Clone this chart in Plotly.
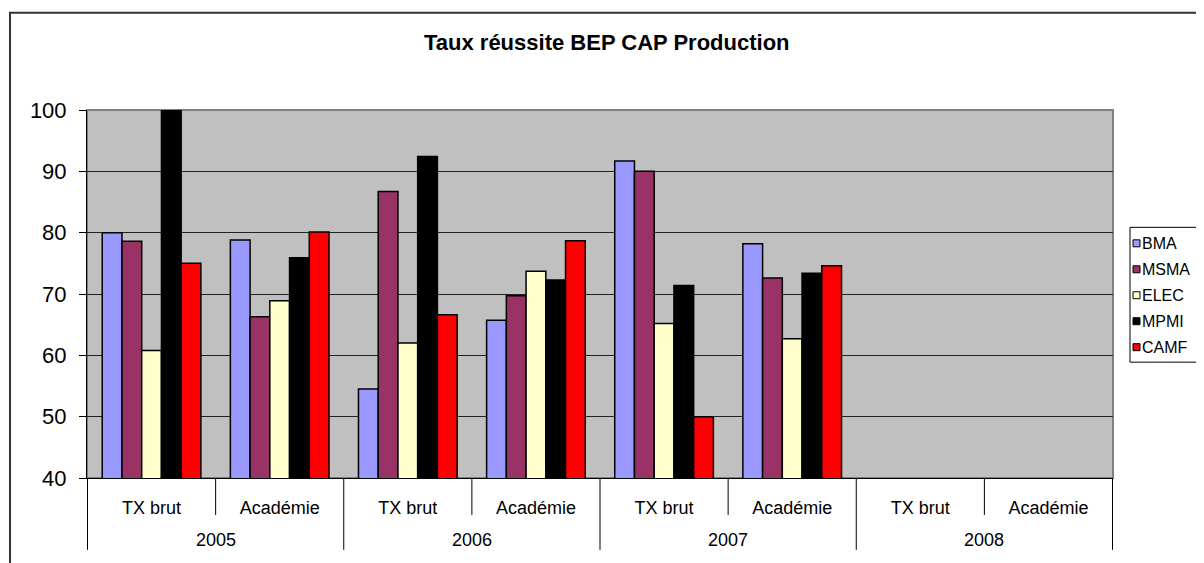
import plotly.graph_objects as go

# ---- data ----
years = ["2005", "2005", "2006", "2006", "2007", "2007", "2008", "2008"]
groups = ["TX brut", "Académie", "TX brut", "Académie", "TX brut", "Académie", "TX brut", "Académie"]
series_names = ["BMA", "MSMA", "ELEC", "MPMI", "CAMF"]
bma = [80.0, 78.8, 54.5, 65.7, 91.7, 78.2, None, None]
msma = [78.6, 66.3, 86.7, 69.7, 90.0, 72.6, None, None]
elec = [60.8, 68.9, 62.0, 73.7, 65.2, 62.7, None, None]
mpmi = [100.0, 75.9, 92.4, 72.3, 71.4, 73.4, None, None]
camf = [75.0, 80.1, 66.6, 78.7, 50.0, 74.6, None, None]
colors = ["#9999FF", "#993366", "#FFFFCC", "#000000", "#FF0000"]
y_ticks = [40, 50, 60, 70, 80, 90, 100]
title_text = "Taux réussite BEP CAP Production"

values = [bma, msma, elec, mpmi, camf]
cats = [y + " " + g for y, g in zip(years, groups)]

# page geometry (page has an 8px body margin)
OFF = 8
W, H = 1204, 563
L, R, T, B = 87, 1113, 109.5, 478
pw, ph = R - L, B - T


def px(x):
    return (x - L) / pw


def py(y):
    return (B - y) / ph


FONT = "Arial, Liberation Sans, sans-serif"

fig = go.Figure()
for name, vals, col in zip(series_names, values, colors):
    fig.add_trace(go.Bar(
        x=cats, y=vals, name=name,
        marker=dict(color=col, line=dict(color="black", width=1.5)),
        showlegend=False,
    ))

shapes = []
annotations = []
# outer chart frame
shapes.append(dict(type="rect", xref="paper", yref="paper",
                   x0=px(10), x1=px(1230), y0=py(590), y1=py(12),
                   line=dict(color="#333333", width=2), fillcolor="rgba(0,0,0,0)", layer="above"))
# plot area border (gray)
shapes.append(dict(type="rect", xref="paper", yref="paper",
                   x0=0, x1=1, y0=0, y1=1,
                   line=dict(color="#808080", width=2), fillcolor="rgba(0,0,0,0)", layer="below"))

# category boundaries: inner ticks and year dividers
n = len(cats)
for k in range(n + 1):
    xb = k - 0.5
    is_year_edge = (k == 0) or (k == n) or (years[k] != years[k - 1])
    y_end = 550 if is_year_edge else 515
    shapes.append(dict(type="line", xref="x", yref="paper", x0=xb, x1=xb,
                       y0=0, y1=py(y_end), line=dict(color="black", width=1)))

# year labels (outer level)
uniq_years = []
for i, y in enumerate(years):
    if not uniq_years or uniq_years[-1][0] != y:
        uniq_years.append([y, i, i])
    else:
        uniq_years[-1][2] = i
for y, i0, i1 in uniq_years:
    annotations.append(dict(xref="x", yref="paper", x=(i0 + i1) / 2, y=py(540),
                            text=y, showarrow=False, xanchor="center", yanchor="middle",
                            font=dict(family=FONT, size=18, color="black")))

# legend box
lx0, ly0, ly1 = 1130, 227, 362
shapes.append(dict(type="rect", xref="paper", yref="paper",
                   x0=px(lx0), x1=px(1230), y0=py(ly1), y1=py(ly0),
                   line=dict(color="black", width=1), fillcolor="white", layer="above"))
item_y = [243, 269, 295, 321, 347]
for name, col, yy in zip(series_names, colors, item_y):
    shapes.append(dict(type="rect", xref="paper", yref="paper",
                       x0=px(1133), x1=px(1140), y0=py(yy + 3.5), y1=py(yy - 3.5),
                       line=dict(color="black", width=1), fillcolor=col, layer="above"))
    annotations.append(dict(xref="paper", yref="paper", x=px(1140), y=py(yy),
                            text=name, showarrow=False, xanchor="left", yanchor="middle",
                            font=dict(family=FONT, size=16, color="black")))

annotations.append(dict(xref="paper", yref="paper", x=px(607), y=py(42),
                        text="<b>" + title_text + "</b>", showarrow=False,
                        xanchor="center", yanchor="middle",
                        font=dict(family=FONT, size=22, color="black")))

fig.update_layout(
    width=W, height=H,
    margin=dict(l=L - OFF, r=W - (R - OFF), t=T - OFF, b=H - (B - OFF), pad=0),
    paper_bgcolor="white", plot_bgcolor="#C0C0C0",
    barmode="group", bargap=0.23, bargroupgap=0,
    shapes=shapes, annotations=annotations,
    showlegend=False,
    font=dict(family=FONT, color="black"),
)
fig.update_yaxes(range=[40, 100], tickvals=y_ticks, showgrid=True, gridcolor="#222222", gridwidth=1,
                 showline=True, linecolor="black", linewidth=1,
                 ticks="outside", ticklen=7, tickcolor="black", ticklabelstandoff=8,
                 tickfont=dict(family=FONT, size=22, color="black"), zeroline=False)
fig.update_xaxes(type="category", tickvals=cats, ticktext=groups,
                 showline=True, linecolor="black", linewidth=1,
                 ticks="", tickfont=dict(family=FONT, size=18, color="black"),
                 ticklabelstandoff=13, showgrid=False)

fig.write_html("out.html")
